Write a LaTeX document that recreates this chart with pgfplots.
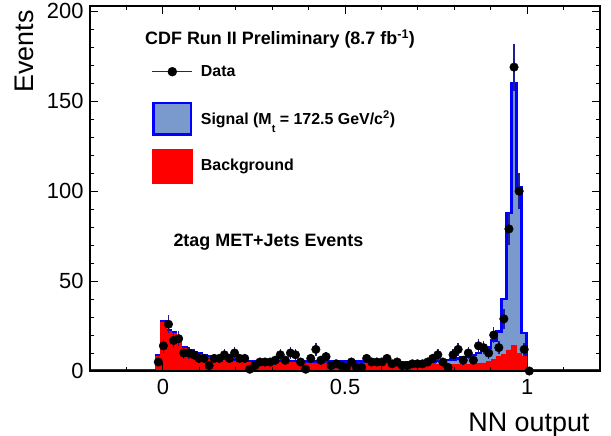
\documentclass[border=0pt]{standalone}
\usepackage{fontspec}
\setmainfont{Liberation Sans}
\usepackage{pgfplots}
\pgfplotsset{compat=1.18}
\usepackage{pgfplotstable}

\definecolor{sigfill}{RGB}{122,154,206}
\definecolor{sigline}{RGB}{0,0,255}
\definecolor{datablue}{RGB}{30,30,150}
\definecolor{zeroline}{RGB}{110,10,90}

% bin centre, background, background+signal
\pgfplotstableread{
x bg tot
-0.2 0 0
-0.0265 0 0
-0.0125 8 8.7
0.0015 27 27.8
0.0154 22 22.7
0.0294 21 21.7
0.0433 16 16.7
0.0573 12.5 13.2
0.0712 11 11.7
0.0852 10 10.7
0.0991 9 9.7
0.1131 8 8.7
0.1270 7.5 8.2
0.1410 7 7.7
0.1549 6.5 7.2
0.1689 6 6.7
0.1828 6 6.7
0.1968 5.5 6.2
0.2107 5.5 6.2
0.2247 5.5 6.2
0.2386 5 5.7
0.2526 5 5.7
0.2665 5 5.7
0.2805 5 5.7
0.2944 5 5.7
0.3084 5 5.7
0.3223 5 5.7
0.3363 5 5.7
0.3502 5 5.7
0.3642 5 5.7
0.3781 4.5 5.2
0.3921 4.5 5.2
0.4060 4.5 5.2
0.4200 4.5 5.2
0.4339 4.5 5.2
0.4479 4.5 5.2
0.4618 4.5 5.2
0.4758 4.5 5.2
0.4897 4.5 5.2
0.5037 4.5 5.2
0.5176 4.5 5.2
0.5316 4.5 5.2
0.5455 4.5 5.2
0.5595 4.5 5.2
0.5734 4.5 5.2
0.5874 4.5 5.2
0.6013 4.5 5.2
0.6153 4.5 5.2
0.6292 4.5 5.2
0.6432 4.5 5.2
0.6571 4 4.8
0.6711 4 4.9
0.6850 4 5.0
0.6990 4 5.0
0.7129 4 5.1
0.7269 4 5.2
0.7408 4 5.3
0.7548 3.5 5.5
0.7687 3.5 5.5
0.7827 3.5 6
0.7966 3.5 6.5
0.8106 3.5 7
0.8245 3.5 7.5
0.8385 3.5 8
0.8524 3.8 9
0.8664 4.2 10
0.8803 4.5 11
0.8943 5.2 13
0.9082 6.5 17
0.9222 8 22
0.9361 9 40
0.9501 11.7 88
0.9640 14.4 160
0.9780 9.8 102
0.9919 8 21
1.0059 0 0
1.2 0 0
}\hist

% data: bin centre, events, sqrt(events)
\pgfplotstableread{
x y e
-0.0125 5 2.24
0.0015 14 3.74
0.0154 26 5.10
0.0294 17 4.12
0.0433 18 4.24
0.0573 10 3.16
0.0712 10 3.16
0.0852 9 3.00
0.0991 7 2.65
0.1131 7 2.65
0.1270 3 1.73
0.1410 7 2.65
0.1549 7 2.65
0.1689 9 3.00
0.1828 7 2.65
0.1968 10 3.16
0.2107 7 2.65
0.2247 7 2.65
0.2386 1 1.00
0.2526 3 1.73
0.2665 5 2.24
0.2805 5 2.24
0.2944 5 2.24
0.3084 6 2.45
0.3223 9 3.00
0.3363 6 2.45
0.3502 10 3.16
0.3642 9 3.00
0.3781 5 2.24
0.3921 1 1.00
0.4060 7 2.65
0.4200 12 3.46
0.4339 6 2.45
0.4479 8 2.83
0.4618 3 1.73
0.4758 4 2.00
0.4897 3 1.73
0.5037 2 1.41
0.5176 5 2.24
0.5316 2 1.41
0.5455 2 1.41
0.5595 7 2.65
0.5734 5 2.24
0.5874 5 2.24
0.6013 5 2.24
0.6153 7 2.65
0.6292 4 2.00
0.6432 5 2.24
0.6571 3 1.73
0.6711 3 1.73
0.6850 4 2.00
0.6990 4 2.00
0.7129 4 2.00
0.7269 5 2.24
0.7408 7 2.65
0.7548 9 3.00
0.7687 5 2.24
0.7827 2 1.41
0.7966 9 3.00
0.8106 12 3.46
0.8245 6 2.45
0.8385 10 3.16
0.8524 6 2.45
0.8664 14 3.74
0.8803 13 3.61
0.8943 10 3.16
0.9082 20 4.47
0.9222 13 3.61
0.9361 29 5.39
0.9501 79 8.89
0.9640 169 13.00
0.9780 100 10.00
0.9919 12 3.46
1.0059 0 0
}\data

\begin{document}
\begin{tikzpicture}
\useasboundingbox (-90bp,-65bp) rectangle (521bp,371bp);
\begin{axis}[
    scale only axis,
    width=510bp, height=365bp,
    xmin=-0.2, xmax=1.2, ymin=0, ymax=203,
    axis on top,
    axis line style={line width=1.8bp},
    tick style={line width=1bp, black},
    major tick length=8bp, minor tick length=4bp,
    tick align=inside,
    xtick={0,0.5,1},
    minor xtick={-0.1,0.1,0.2,0.3,0.4,0.6,0.7,0.8,0.9,1.1},
    ytick={0,50,100,150,200},
    minor y tick num=4,
    tick label style={font=\fontsize{22}{24}\selectfont},
    /pgf/number format/assume math mode=true,
    xticklabel style={yshift=-5bp},
    yticklabel style={xshift=-3bp},
    legend cell align=left,
    legend style={at={(axis description cs:0.121,0.8666)}, anchor=north west,
        draw=none, fill=none, inner sep=0pt, outer sep=0pt,
        row sep=13bp, column sep=8bp, nodes={inner sep=0pt},
        font=\bfseries\fontsize{16}{19}\selectfont},
]
\addlegendimage{legend image code/.code={
    \path[draw=none, fill=none] (0bp,-17bp) rectangle (40bp,17bp);
    \draw[datablue, line width=1.2bp] (0bp,0bp) -- (40bp,0bp);
    \fill[black] (20bp,0bp) circle (4.5bp);}}
\addlegendentry{Data}
\addlegendimage{legend image code/.code={
    \draw[draw=sigline, line width=2.5bp, fill=sigfill] (1.25bp,-15.75bp) rectangle (38.75bp,15.75bp);}}
\addlegendentry{Signal (M\raisebox{-0.45em}[0pt][0pt]{\fontsize{11}{11}\selectfont t} = 172.5 GeV/c\textsuperscript{2})}
\addlegendimage{legend image code/.code={
    \fill[red] (0bp,-17bp) rectangle (40bp,17bp);}}
\addlegendentry{Background}

\addplot[const plot mark mid, fill=sigfill, draw=sigline, line width=2.5bp, forget plot]
    table[x=x, y=tot] {\hist} \closedcycle;
\addplot[const plot mark mid, fill=red, draw=red, line width=0.8bp, forget plot]
    table[x=x, y=bg] {\hist} \closedcycle;
\addplot[zeroline, line width=3.5bp, forget plot] coordinates {(-0.2,0) (-0.0195,0)};
\addplot[zeroline, line width=3.5bp, forget plot] coordinates {(0.9989,0) (1.2,0)};
\addplot[only marks, mark=*, mark size=4.3bp, black, forget plot,
    error bars/.cd, y dir=both, y explicit, error mark=none,
    error bar style={datablue, line width=1.5bp}]
    table[x=x, y=y, y error=e] {\data};
\end{axis}
\node[anchor=base west, font=\bfseries\fontsize{18}{21}\selectfont]
    at ([xshift=51.7bp, yshift=326bp]current axis.south west)
    {CDF Run II Preliminary (8.7 fb\textsuperscript{-1})};
\node[anchor=base west, font=\bfseries\fontsize{18}{21}\selectfont]
    at ([xshift=80bp, yshift=124bp]current axis.south west)
    {2tag MET+Jets Events};
\node[rotate=90, anchor=base east, font=\fontsize{27}{30}\selectfont]
    at ([xshift=-56bp, yshift=364bp]current axis.south west) {Events};
\node[anchor=base east, font=\fontsize{27}{30}\selectfont]
    at ([xshift=503bp, yshift=-60bp]current axis.south west) {NN output};
\end{tikzpicture}
\end{document}
